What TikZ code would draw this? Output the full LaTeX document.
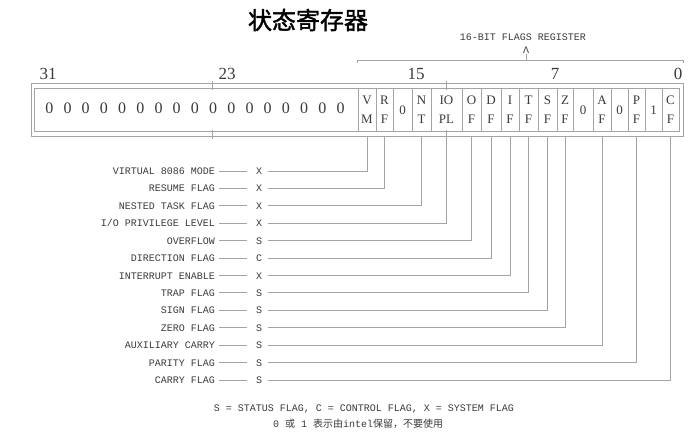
\documentclass[tikz,border=0pt]{standalone}
\usepackage{fontspec}
\setmainfont{Liberation Serif}
\newfontfamily\monofont{Liberation Mono}
\newfontfamily\cjkfont{Noto Sans CJK SC}
\newfontfamily\titlefont[FakeBold=1.6]{Noto Sans CJK SC}
\usetikzlibrary{positioning}
\definecolor{rule}{HTML}{A4A4A4}
\definecolor{ink}{HTML}{3A3A3A}
\tikzset{
  cellbox/.style={draw=rule, line width=0.9pt, minimum height=43.5pt, inner sep=0pt, align=center, text=ink, font=\fontsize{13}{19}\selectfont},
  bitnum/.style={text=ink, font=\fontsize{17}{17}\selectfont, inner sep=0pt},
  zerodigit/.style={text=ink, font=\fontsize{16}{16}\selectfont, inner sep=0pt},
  flagname/.style={anchor=east, text=ink, font=\monofont\fontsize{10}{12}\selectfont, inner xsep=4pt, text height=7pt, text depth=0pt},
  flagkind/.style={text=ink, font=\monofont\fontsize{10}{12}\selectfont, inner xsep=6pt, text height=7pt, text depth=0pt},
  leader/.style={draw=rule, line width=0.9pt},
  smalltext/.style={text=ink, font=\monofont\fontsize{10}{12}\selectfont, inner sep=0pt},
}

\begin{document}
\begin{tikzpicture}[x=1pt, y=-1pt]
    \useasboundingbox (0,0) rectangle (700,441);
    % title
    \node[font=\titlefont\fontsize{24}{24}\selectfont] (title) at (308,20) {状态寄存器};
    % 16-bit bracket
    \node[smalltext] (hdr) at (523,37) {16-BIT FLAGS REGISTER};
    \node[smalltext] (caret) at (526,50) {Λ};
    \coordinate (brl) at (357,60);
    \coordinate (brr) at (683,60);
    \draw[leader] ([yshift=-3pt]brl) -- (brl) -- (brr) -- ([yshift=-3pt]brr);
    \draw[leader] (caret.south) ++(0,1) -- (526,60);
    % bit numbers
    \foreach \nm/\bit/\x in {b31/31/48, b23/23/227, b15/15/416, b7/7/555, b0/0/678}
        \node[bitnum] (\nm) at (\x,74) {\bit};
    % register frame
    \node[draw=rule, line width=0.9pt, minimum width=652pt, minimum height=52.5pt, inner sep=0pt] (reg) at (357,109.75) {};
    \node[cellbox, minimum width=323.5pt] (upper) at (196.25,109.75) {};
    \foreach \i in {0,...,16}
        \node[zerodigit] (z\i) at ({49.3+18.2*\i},108) {0};
    \foreach \nm/\txt/\xa/\xb in {vm/{V\\M}/358/376, rf/{R\\F}/376/393, r15/0/393/412,
        nt/{N\\T}/412/431, iopl/{IO\\PL}/431/462, of/{O\\F}/462/481, df/{D\\F}/481/501,
        if/{I\\F}/501/519, tf/{T\\F}/519/538, sf/{S\\F}/538/557, zf/{Z\\F}/557/573,
        r5/0/573/593, af/{A\\F}/593/611, r3/0/611/628, pf/{P\\F}/628/645,
        r1/1/645/662, cf/{C\\F}/662/679}
        \node[cellbox, minimum width={(\xb-\xa)*1pt}] (\nm) at ({(\xa+\xb)/2},109.75) {\txt};
    % byte ticks
    \foreach \x in {212,446} {
        \draw[leader] (\x,81) -- (\x,90);
        \draw[leader] (\x,129.5) -- (\x,138.5);
    }
    % flag legend
    \foreach \i/\name/\kind/\cell in {1/VIRTUAL 8086 MODE/X/vm, 2/RESUME FLAG/X/rf,
        3/NESTED TASK FLAG/X/nt, 4/{I/O PRIVILEGE LEVEL}/X/iopl, 5/OVERFLOW/S/of,
        6/DIRECTION FLAG/C/df, 7/INTERRUPT ENABLE/X/if, 8/TRAP FLAG/S/tf,
        9/SIGN FLAG/S/sf, 10/ZERO FLAG/S/zf, 11/AUXILIARY CARRY/S/af,
        12/PARITY FLAG/S/pf, 13/CARRY FLAG/S/cf} {
        \node[flagname] (n\cell) at (219,{171+17.42*(\i-1)}) {\name};
        \node[flagkind] (k\cell) at (259,{171+17.42*(\i-1)}) {\kind};
        \draw[leader, shorten >=3pt] (n\cell.east) -- (k\cell.west);
        \draw[leader] (k\cell.east) -| (\cell.south |- reg.south);
    }
    % footnotes
    \node[smalltext] (note1) at (364,409) {S = STATUS FLAG, C = CONTROL FLAG, X = SYSTEM FLAG};
    \node[text=ink, inner sep=0pt] (note2) at (358,423.5) {{\monofont\fontsize{10}{12}\selectfont 0 }{\cjkfont\fontsize{10}{12}\selectfont 或}{\monofont\fontsize{10}{12}\selectfont{} 1 }{\cjkfont\fontsize{10}{12}\selectfont 表示由}{\monofont\fontsize{10}{12}\selectfont intel}{\cjkfont\fontsize{10}{12}\selectfont 保留，不要使用}};
\end{tikzpicture}
\end{document}
